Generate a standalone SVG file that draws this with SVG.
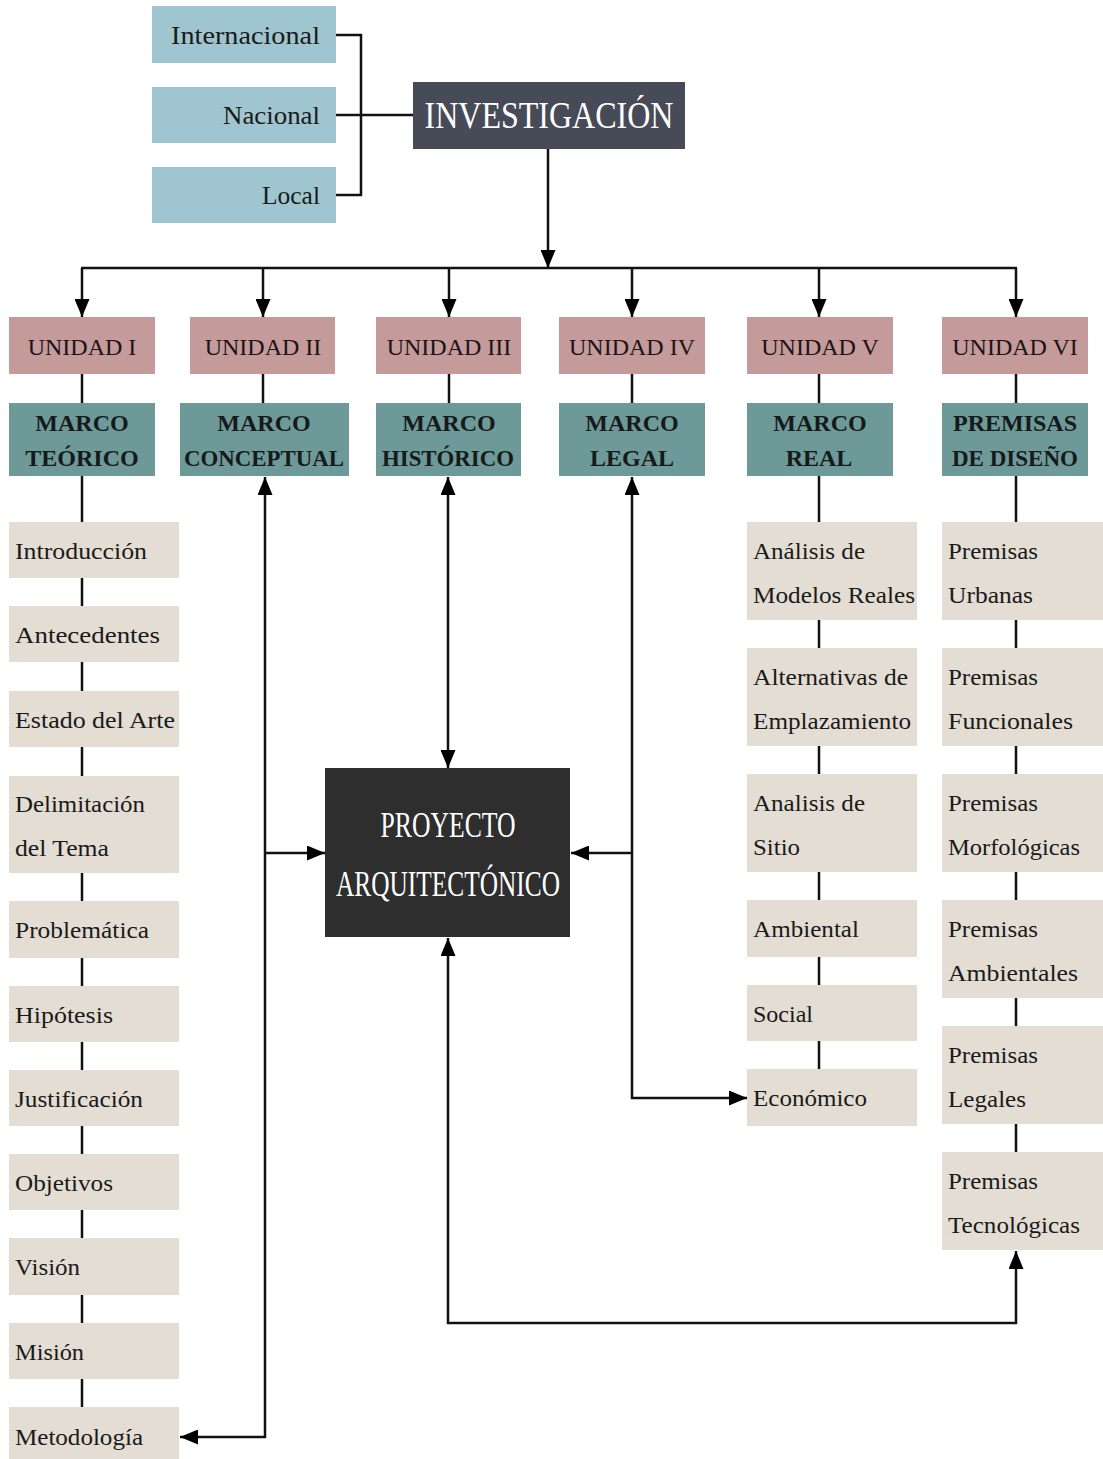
<svg xmlns="http://www.w3.org/2000/svg" width="1103" height="1459" viewBox="0 0 1103 1459">
  <defs>
    <marker id="ah" viewBox="0 0 10 10" refX="10" refY="5" markerWidth="6" markerHeight="7" markerUnits="userSpaceOnUse" orient="auto" preserveAspectRatio="none">
      <path d="M0,0 L10,5 L0,10 z" fill="#000"/>
    </marker>
    <marker id="arr" viewBox="0 0 10 10" refX="10" refY="5" markerWidth="18" markerHeight="15" markerUnits="userSpaceOnUse" orient="auto-start-reverse" preserveAspectRatio="none">
      <path d="M0,0 L10,5 L0,10 z" fill="#000"/>
    </marker>
    <style>
      .scope { fill: #9fc6d0; }
      .inv { fill: #474b57; }
      .unit { fill: #c49a9b; }
      .frame { fill: #6e9999; }
      .item { fill: #e3ddd3; }
      .core { fill: #2e2e2e; }
      .t { font-family: "Liberation Serif", "DejaVu Serif", serif; fill: #1a1a1a; }
      .th { font-family: "Liberation Serif", "DejaVu Serif", serif; fill: #1c1416; font-size: 24px; text-anchor: middle; }
      .tf { font-family: "Liberation Serif", "DejaVu Serif", serif; fill: #151a1a; font-size: 24px; text-anchor: middle; font-weight: bold; }
      .ti { font-family: "Liberation Serif", "DejaVu Serif", serif; fill: #1a1a1a; font-size: 24px; }
      .tw { font-family: "Liberation Serif", "DejaVu Serif", serif; fill: #ffffff; text-anchor: middle; }
      .ln { stroke: #111; stroke-width: 2.5; fill: none; }
      .lk { stroke: #111; stroke-width: 2.5; fill: none; marker-end: url(#arr); }
      .lkb { stroke: #111; stroke-width: 2.5; fill: none; marker-start: url(#arr); marker-end: url(#arr); }
    </style>
  </defs>
  <rect width="1103" height="1459" fill="#ffffff"/>

  <!-- connectors -->
  <g id="connectors">
    <!-- scope bracket -->
    <path class="ln" d="M336,35 H361 V195 H336"/>
    <path class="ln" d="M336,115 H413" stroke-width="3.5"/>
    <!-- investigación down to bus -->
    <path class="lk" d="M548,149 V268"/>
    <path class="ln" d="M81,268 H1017"/>
    <path class="lk" d="M82,268 V317"/>
    <path class="lk" d="M263,268 V317"/>
    <path class="lk" d="M449,268 V317"/>
    <path class="lk" d="M632,268 V317"/>
    <path class="lk" d="M819,268 V317"/>
    <path class="lk" d="M1016,268 V317"/>
    <!-- unidad to marco -->
    <path class="ln" d="M82,374 V403"/>
    <path class="ln" d="M263,374 V403"/>
    <path class="ln" d="M449,374 V403"/>
    <path class="ln" d="M632,374 V403"/>
    <path class="ln" d="M819,374 V403"/>
    <path class="ln" d="M1016,374 V403"/>
    <!-- column spines -->
    <path class="ln" d="M82,476 V1407"/>
    <path class="ln" d="M819,476 V1069"/>
    <path class="ln" d="M1016,476 V1152"/>
    <!-- marco conceptual: to metodología and proyecto -->
    <path class="lkb" d="M265,477 V1437 H180"/>
    <path class="lk" d="M265,853 H325"/>
    <!-- marco histórico to proyecto -->
    <path class="lkb" d="M448,477 V768"/>
    <!-- marco legal: to económico and proyecto -->
    <path class="lkb" d="M632,477 V1098 H747"/>
    <path class="lk" d="M632,853 H571"/>
    <!-- proyecto to premisas tecnológicas -->
    <path class="lkb" d="M448,938 V1323 H1016 V1251"/>
  </g>

  <!-- scope nodes -->
  <g id="n-internacional"><rect class="scope" x="152" y="6" width="184" height="57"/><text class="t" x="320" y="44" font-size="26" text-anchor="end" textLength="149" lengthAdjust="spacingAndGlyphs">Internacional</text></g>
  <g id="n-nacional"><rect class="scope" x="152" y="87" width="184" height="56"/><text class="t" x="320" y="124" font-size="26" text-anchor="end" textLength="97" lengthAdjust="spacingAndGlyphs">Nacional</text></g>
  <g id="n-local"><rect class="scope" x="152" y="167" width="184" height="56"/><text class="t" x="320" y="204" font-size="26" text-anchor="end" textLength="58" lengthAdjust="spacingAndGlyphs">Local</text></g>

  <g id="n-investigacion"><rect class="inv" x="413" y="82" width="272" height="67"/><text class="tw" x="549" y="128" font-size="38" textLength="249" lengthAdjust="spacingAndGlyphs">INVESTIGACIÓN</text></g>

  <!-- unidades -->
  <g id="n-u1"><rect class="unit" x="9" y="317" width="146" height="57"/><text class="th" x="82" y="355">UNIDAD I</text></g>
  <g id="n-u2"><rect class="unit" x="190" y="317" width="145" height="57"/><text class="th" x="263" y="355">UNIDAD II</text></g>
  <g id="n-u3"><rect class="unit" x="376" y="317" width="145" height="57"/><text class="th" x="449" y="355">UNIDAD III</text></g>
  <g id="n-u4"><rect class="unit" x="559" y="317" width="146" height="57"/><text class="th" x="632" y="355">UNIDAD IV</text></g>
  <g id="n-u5"><rect class="unit" x="747" y="317" width="146" height="57"/><text class="th" x="820" y="355">UNIDAD V</text></g>
  <g id="n-u6"><rect class="unit" x="942" y="317" width="146" height="57"/><text class="th" x="1015" y="355">UNIDAD VI</text></g>

  <!-- marcos -->
  <g id="n-m1"><rect class="frame" x="9" y="403" width="146" height="73"/><text class="tf" x="82" y="431">MARCO</text><text class="tf" x="82" y="466">TEÓRICO</text></g>
  <g id="n-m2"><rect class="frame" x="180" y="403" width="169" height="73"/><text class="tf" x="264" y="431">MARCO</text><text class="tf" x="264" y="466" textLength="160" lengthAdjust="spacingAndGlyphs">CONCEPTUAL</text></g>
  <g id="n-m3"><rect class="frame" x="376" y="403" width="145" height="73"/><text class="tf" x="449" y="431">MARCO</text><text class="tf" x="448" y="466" textLength="132" lengthAdjust="spacingAndGlyphs">HISTÓRICO</text></g>
  <g id="n-m4"><rect class="frame" x="559" y="403" width="146" height="73"/><text class="tf" x="632" y="431">MARCO</text><text class="tf" x="632" y="466">LEGAL</text></g>
  <g id="n-m5"><rect class="frame" x="747" y="403" width="146" height="73"/><text class="tf" x="820" y="431">MARCO</text><text class="tf" x="819" y="466">REAL</text></g>
  <g id="n-m6"><rect class="frame" x="942" y="403" width="146" height="73"/><text class="tf" x="1015" y="431">PREMISAS</text><text class="tf" x="1015" y="466" textLength="126" lengthAdjust="spacingAndGlyphs">DE DISEÑO</text></g>

  <!-- unidad I items -->
  <g id="n-introduccion"><rect class="item" x="9" y="522" width="170" height="56"/><text class="ti" x="15" y="559" textLength="132" lengthAdjust="spacingAndGlyphs">Introducción</text></g>
  <g id="n-antecedentes"><rect class="item" x="9" y="606" width="170" height="56"/><text class="ti" x="15" y="643" textLength="145" lengthAdjust="spacingAndGlyphs">Antecedentes</text></g>
  <g id="n-estado"><rect class="item" x="9" y="691" width="170" height="56"/><text class="ti" x="15" y="728" textLength="160" lengthAdjust="spacingAndGlyphs">Estado del Arte</text></g>
  <g id="n-delimitacion"><rect class="item" x="9" y="776" width="170" height="97"/><text class="ti" x="15" y="812" textLength="130" lengthAdjust="spacingAndGlyphs">Delimitación</text><text class="ti" x="15" y="856" textLength="94" lengthAdjust="spacingAndGlyphs">del Tema</text></g>
  <g id="n-problematica"><rect class="item" x="9" y="901" width="170" height="57"/><text class="ti" x="15" y="938" textLength="134" lengthAdjust="spacingAndGlyphs">Problemática</text></g>
  <g id="n-hipotesis"><rect class="item" x="9" y="986" width="170" height="56"/><text class="ti" x="15" y="1023" textLength="98" lengthAdjust="spacingAndGlyphs">Hipótesis</text></g>
  <g id="n-justificacion"><rect class="item" x="9" y="1070" width="170" height="56"/><text class="ti" x="15" y="1107" textLength="128" lengthAdjust="spacingAndGlyphs">Justificación</text></g>
  <g id="n-objetivos"><rect class="item" x="9" y="1154" width="170" height="56"/><text class="ti" x="15" y="1191" textLength="98" lengthAdjust="spacingAndGlyphs">Objetivos</text></g>
  <g id="n-vision"><rect class="item" x="9" y="1238" width="170" height="57"/><text class="ti" x="15" y="1275" textLength="65" lengthAdjust="spacingAndGlyphs">Visión</text></g>
  <g id="n-mision"><rect class="item" x="9" y="1323" width="170" height="56"/><text class="ti" x="15" y="1360" textLength="69" lengthAdjust="spacingAndGlyphs">Misión</text></g>
  <g id="n-metodologia"><rect class="item" x="9" y="1407" width="170" height="52"/><text class="ti" x="15" y="1445" textLength="128" lengthAdjust="spacingAndGlyphs">Metodología</text></g>

  <!-- proyecto -->
  <g id="n-proyecto"><rect class="core" x="325" y="768" width="245" height="169"/><text class="tw" x="448" y="837" font-size="36" textLength="135" lengthAdjust="spacingAndGlyphs">PROYECTO</text><text class="tw" x="448" y="896" font-size="36" textLength="224" lengthAdjust="spacingAndGlyphs">ARQUITECTÓNICO</text></g>

  <!-- unidad V items -->
  <g id="n-modelos"><rect class="item" x="747" y="522" width="170" height="98"/><text class="ti" x="753" y="559" textLength="112" lengthAdjust="spacingAndGlyphs">Análisis de</text><text class="ti" x="753" y="603" textLength="162" lengthAdjust="spacingAndGlyphs">Modelos Reales</text></g>
  <g id="n-alternativas"><rect class="item" x="747" y="648" width="170" height="98"/><text class="ti" x="753" y="685" textLength="155" lengthAdjust="spacingAndGlyphs">Alternativas de</text><text class="ti" x="753" y="729" textLength="158" lengthAdjust="spacingAndGlyphs">Emplazamiento</text></g>
  <g id="n-sitio"><rect class="item" x="747" y="774" width="170" height="98"/><text class="ti" x="753" y="811" textLength="112" lengthAdjust="spacingAndGlyphs">Analisis de</text><text class="ti" x="753" y="855" textLength="47" lengthAdjust="spacingAndGlyphs">Sitio</text></g>
  <g id="n-ambiental"><rect class="item" x="747" y="900" width="170" height="57"/><text class="ti" x="753" y="937" textLength="106" lengthAdjust="spacingAndGlyphs">Ambiental</text></g>
  <g id="n-social"><rect class="item" x="747" y="985" width="170" height="56"/><text class="ti" x="753" y="1022" textLength="60" lengthAdjust="spacingAndGlyphs">Social</text></g>
  <g id="n-economico"><rect class="item" x="747" y="1069" width="170" height="57"/><text class="ti" x="753" y="1106" textLength="114" lengthAdjust="spacingAndGlyphs">Económico</text></g>

  <!-- unidad VI items -->
  <g id="n-urbanas"><rect class="item" x="942" y="522" width="161" height="98"/><text class="ti" x="948" y="559" textLength="90" lengthAdjust="spacingAndGlyphs">Premisas</text><text class="ti" x="948" y="603" textLength="85" lengthAdjust="spacingAndGlyphs">Urbanas</text></g>
  <g id="n-funcionales"><rect class="item" x="942" y="648" width="161" height="98"/><text class="ti" x="948" y="685" textLength="90" lengthAdjust="spacingAndGlyphs">Premisas</text><text class="ti" x="948" y="729" textLength="125" lengthAdjust="spacingAndGlyphs">Funcionales</text></g>
  <g id="n-morfologicas"><rect class="item" x="942" y="774" width="161" height="98"/><text class="ti" x="948" y="811" textLength="90" lengthAdjust="spacingAndGlyphs">Premisas</text><text class="ti" x="948" y="855" textLength="132" lengthAdjust="spacingAndGlyphs">Morfológicas</text></g>
  <g id="n-ambientales"><rect class="item" x="942" y="900" width="161" height="98"/><text class="ti" x="948" y="937" textLength="90" lengthAdjust="spacingAndGlyphs">Premisas</text><text class="ti" x="948" y="981" textLength="130" lengthAdjust="spacingAndGlyphs">Ambientales</text></g>
  <g id="n-legales"><rect class="item" x="942" y="1026" width="161" height="98"/><text class="ti" x="948" y="1063" textLength="90" lengthAdjust="spacingAndGlyphs">Premisas</text><text class="ti" x="948" y="1107" textLength="78" lengthAdjust="spacingAndGlyphs">Legales</text></g>
  <g id="n-tecnologicas"><rect class="item" x="942" y="1152" width="161" height="98"/><text class="ti" x="948" y="1189" textLength="90" lengthAdjust="spacingAndGlyphs">Premisas</text><text class="ti" x="948" y="1233" textLength="132" lengthAdjust="spacingAndGlyphs">Tecnológicas</text></g>
</svg>
